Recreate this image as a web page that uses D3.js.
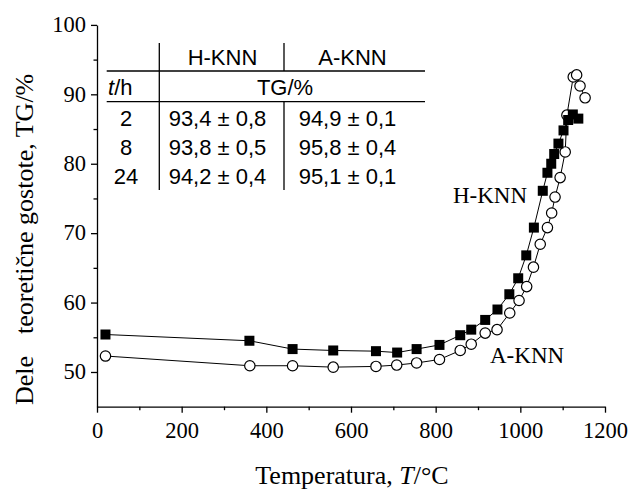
<!DOCTYPE html>
<html>
<head>
<meta charset="utf-8">
<script src="https://cdn.jsdelivr.net/npm/d3@7"></script>
<style>
    body{margin:0;background:#fff}
    svg text{fill:#000}
    .serif{font-family:"Liberation Serif","Times New Roman",serif}
    .sans{font-family:"Liberation Sans",Arial,sans-serif}
</style>
</head>
<body>
<svg id="chart" width="638" height="490"></svg>
<script>
'use strict';

// H-KNN (polni kvadrati)
var hknnT=[20,360,462,558,659,709,755,809,858,884,917,946,974,995,1014,1032,1053,1064,1073,1080,1090,1102,1113,1124,1137]
  , hknnTG=[55.4,54.5,53.3,53.1,53.0,52.8,53.3,53.9,55.3,56.1,57.5,59.0,61.2,63.5,66.8,70.8,76.1,78.7,80.0,81.4,82.9,84.8,86.3,87.1,86.5]

// A-KNN (prazni krogi)
var aknnT=[20,361,462,558,659,708,755,809,858,884,917,945,975,997,1015,1031,1047,1064,1074,1082,1094,1106,1110,1125,1133,1141,1153]
  , aknnTG=[52.3,50.9,50.9,50.7,50.8,51.0,51.3,51.8,53.1,54.0,55.6,56.1,58.5,60.3,62.3,65.1,68.4,70.8,72.9,75.2,78.0,81.7,87.0,92.5,92.8,91.2,89.5]

var xTicks=[0,200,400,600,800,1000,1200]
  , xMinor=[100,300,500,700,900,1100]
  , yTicks=[50,60,70,80,90,100]
  , yMinor=[55,65,75,85,95]

// tabela
var tableHead=['H-KNN','A-KNN']
  , tableTime=['2','8','24']
  , tableH=['93,4 ± 0,8','93,8 ± 0,5','94,2 ± 0,4']
  , tableA=['94,9 ± 0,1','95,8 ± 0,4','95,1 ± 0,1']

var svg=d3.select('#chart')
  , x=d3.scaleLinear().domain([0,1200]).range([97,605])
  , y=d3.scaleLinear().domain([45,100]).range([406.7,24.9])
  , fmt=d3.format('d')

svg.append('rect')
    .attr('width',638)
    .attr('height',490)
    .attr('fill','#fff');

// osi
svg.append('g')
    .attr('transform','translate(0,'+y(45)+')')
    .call(d3.axisBottom(x).tickValues(xTicks).tickSize(6).tickSizeOuter(0).tickPadding(9.5).tickFormat(fmt));
svg.append('g')
    .attr('transform','translate(0,'+y(45)+')')
    .call(d3.axisBottom(x).tickValues(xMinor).tickSize(3.5).tickSizeOuter(0).tickFormat(''))
    .select('.domain').remove();

var gy=svg.append('g')
    .attr('transform','translate('+x(0)+',0)')
    .call(d3.axisLeft(y).tickValues(yTicks).tickSize(6).tickSizeOuter(0).tickPadding(5).tickFormat(fmt));
svg.append('g')
    .attr('transform','translate('+x(0)+',0)')
    .call(d3.axisLeft(y).tickValues(yMinor).tickSize(3.5).tickSizeOuter(0).tickFormat(''))
    .select('.domain').remove();

svg.selectAll('.domain, .tick line')
    .attr('stroke','#000')
    .attr('stroke-width',1.3);
svg.selectAll('.tick text')
    .attr('class','serif')
    .attr('font-size',22.5)
    .attr('fill','#000');
gy.selectAll('.tick text').attr('dy','0.3em');

// naslovi osi
var xt=svg.append('text')
    .attr('class','serif')
    .attr('x',352)
    .attr('y',484)
    .attr('text-anchor','middle')
    .attr('font-size',26);
xt.append('tspan').text('Temperatura, ');
xt.append('tspan').attr('font-style','italic').text('T');
xt.append('tspan').text('/°C');

var yt=svg.append('text')
    .attr('class','serif')
    .attr('transform','translate(33,405) rotate(-90)')
    .attr('font-size',26);
yt.append('tspan').text('Dele');
yt.append('tspan').attr('dx',22).text('teoretične gostote, TG/%');

// krivulje
var line=d3.line()
    .x(function(d){return x(d[0])})
    .y(function(d){return y(d[1])})

var aData=aknnT.map(function(t,i){return [t,aknnTG[i]]})
  , hData=hknnT.map(function(t,i){return [t,hknnTG[i]]})

svg.append('path')
    .datum(aData)
    .attr('d',line)
    .attr('fill','none')
    .attr('stroke','#000')
    .attr('stroke-width',1);
svg.append('path')
    .datum(hData)
    .attr('d',line)
    .attr('fill','none')
    .attr('stroke','#000')
    .attr('stroke-width',1);

svg.selectAll('circle.a')
    .data(aData)
    .enter().append('circle')
    .attr('class','a')
    .attr('cx',function(d){return x(d[0])})
    .attr('cy',function(d){return y(d[1])})
    .attr('r',5.2)
    .attr('fill','#fff')
    .attr('stroke','#000')
    .attr('stroke-width',1.2);

svg.selectAll('rect.h')
    .data(hData)
    .enter().append('rect')
    .attr('class','h')
    .attr('x',function(d){return x(d[0])-5})
    .attr('y',function(d){return y(d[1])-5})
    .attr('width',10)
    .attr('height',10)
    .attr('fill','#000');

// oznake krivulj
svg.append('text')
    .attr('class','serif')
    .attr('x',527)
    .attr('y',203)
    .attr('text-anchor','end')
    .attr('font-size',23)
    .text('H-KNN');
svg.append('text')
    .attr('class','serif')
    .attr('x',490)
    .attr('y',363)
    .attr('font-size',23)
    .text('A-KNN');

// tabela
var tb=svg.append('g')
    .attr('class','sans')
    .attr('font-size',22)
  , tl=function(x1,y1,x2,y2){
        tb.append('line')
            .attr('x1',x1).attr('y1',y1)
            .attr('x2',x2).attr('y2',y2)
            .attr('stroke','#000')
            .attr('stroke-width',1.3);
    }

tl(159.3,43,159.3,190);
tl(284,43,284,71);
tl(284,101.7,284,190);
tl(106.7,71,425,71);
tl(106.7,101.7,425,101.7);

tb.selectAll('text.head')
    .data(tableHead)
    .enter().append('text')
    .attr('class','head')
    .attr('x',function(d,i){return [222.5,352.5][i]})
    .attr('y',65)
    .attr('text-anchor','middle')
    .text(function(d){return d});

var th=tb.append('text')
    .attr('x',108)
    .attr('y',95);
th.append('tspan').attr('font-style','italic').text('t');
th.append('tspan').text('/h');
tb.append('text')
    .attr('x',285)
    .attr('y',95)
    .attr('text-anchor','middle')
    .text('TG/%');

tableTime.forEach(function(t,i){
    var by=126+i*29
    tb.append('text')
        .attr('x',126)
        .attr('y',by)
        .attr('text-anchor','middle')
        .text(t);
    tb.append('text')
        .attr('x',217.5)
        .attr('y',by)
        .attr('text-anchor','middle')
        .text(tableH[i]);
    tb.append('text')
        .attr('x',347.5)
        .attr('y',by)
        .attr('text-anchor','middle')
        .text(tableA[i]);
});
</script>
</body>
</html>
